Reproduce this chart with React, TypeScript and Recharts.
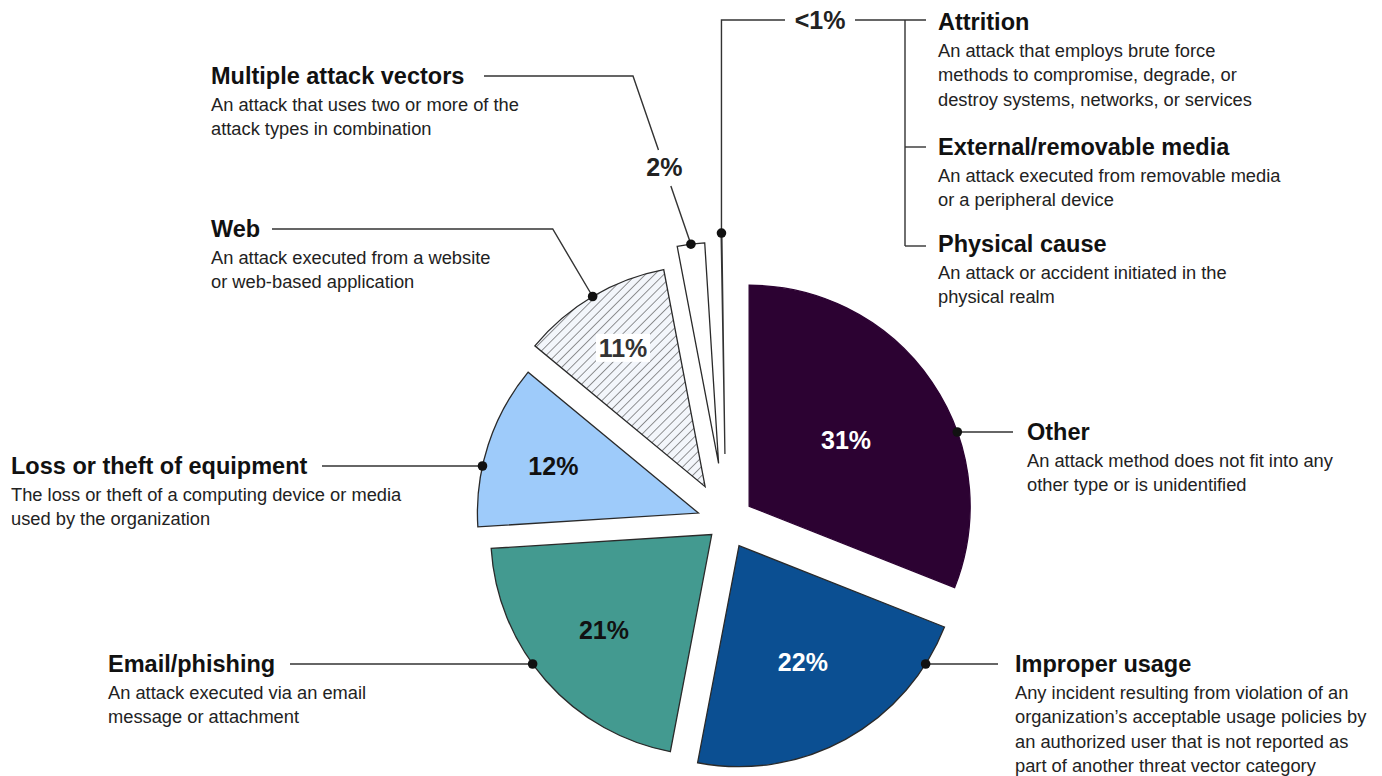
import React from 'react';
import { PieChart, Pie, Cell, Sector } from 'recharts';

// ---------- data ----------
const CATEGORIES = [
  'Other',
  'Improper usage',
  'Email/phishing',
  'Loss or theft of equipment',
  'Web',
  'Multiple attack vectors',
  'Attrition / External/removable media / Physical cause',
];
const SHARES = [31, 22, 21, 12, 11, 2, 1];
const SHARE_LABELS = ['31%', '22%', '21%', '12%', '11%', '2%', '<1%'];
const DESCRIPTIONS: string[][] = [
  ['An attack method does not fit into any', 'other type or is unidentified'],
  [
    'Any incident resulting from violation of an',
    'organization\u2019s acceptable usage policies by',
    'an authorized user that is not reported as',
    'part of another threat vector category',
  ],
  ['An attack executed via an email', 'message or attachment'],
  ['The loss or theft of a computing device or media', 'used by the organization'],
  ['An attack executed from a website', 'or web-based application'],
  ['An attack that uses two or more of the', 'attack types in combination'],
  [],
];
const SMALL_TITLES = ['Attrition', 'External/removable media', 'Physical cause'];
const SMALL_DESCRIPTIONS: string[][] = [
  ['An attack that employs brute force', 'methods to compromise, degrade, or', 'destroy systems, networks, or services'],
  ['An attack executed from removable media', 'or a peripheral device'],
  ['An attack or accident initiated in the', 'physical realm'],
];

// ---------- styles / layout ----------
const COLORS = ['#2c0232', '#0b4f92', '#439a90', '#9ecbfa', 'url(#hatch)', '#ffffff', '#ffffff'];
const LABEL_COLORS = ['#ffffff', '#ffffff', '#111111', '#111111', '#333333', '#222222', '#222222'];
const EXPLODE = [28, 27, 19, 29, 41, 59, 68];
const LABEL_R = [0.53, 0.6, 0.65, 0.69, 0.73, 0, 0];
const FONT = '"Liberation Sans", Arial, sans-serif';
const LINE = '#333333';
const DOT_R = 4.8;

type Callout = { kind: string; textX: number; textY: number; lineEnd: number; elbowX?: number; labelY?: number };
const CALLOUTS: Callout[] = [
  { kind: 'right', textX: 1027, textY: 432, lineEnd: 1013 },
  { kind: 'right', textX: 1015, textY: 664, lineEnd: 998 },
  { kind: 'left', textX: 108, textY: 664, lineEnd: 290 },
  { kind: 'left', textX: 11, textY: 466, lineEnd: 322 },
  { kind: 'radial', textX: 211, textY: 229, lineEnd: 272 },
  { kind: 'bent', textX: 211, textY: 76, lineEnd: 484, elbowX: 633, labelY: 167 },
  { kind: 'group', textX: 938, textY: 20, lineEnd: 785 },
];
const GROUP_TITLE_Y = [22, 147, 244];
const GROUP_LABEL_X = 820;
const BRACKET_X = 905;
const TICK_END = 926;

const RAD = Math.PI / 180;
const polar = (cx: number, cy: number, r: number, a: number) => ({
  x: cx + r * Math.cos(-a * RAD),
  y: cy + r * Math.sin(-a * RAD),
});

const pieData = CATEGORIES.map((name, i) => ({ name, value: SHARES[i] }));

// the thin "<1%" wedge is drawn as a single spoke, halfway between its centre and its closing edge
const spokeAngle = (props: any) => (props.midAngle + props.endAngle) / 2;

function TextBlock({ x, y, title, lines }: { x: number; y: number; title: string; lines: string[] }) {
  return (
    <g>
      <text x={x} y={y} fontFamily={FONT} fontSize={23.5} fontWeight="bold" fill="#111" dominantBaseline="central">
        {title}
      </text>
      {lines.map((l, k) => (
        <text
          key={k}
          x={x}
          y={y + 28 + k * 24.5}
          fontFamily={FONT}
          fontSize={18.3}
          fill="#222"
          dominantBaseline="central"
        >
          {l}
        </text>
      ))}
    </g>
  );
}

const renderSlice = (props: any) => {
  const i = CATEGORIES.indexOf(props.name ?? props.payload?.name);
  const d = EXPLODE[i] ?? 0;
  if (i === 6) {
    const a = spokeAngle(props);
    const o = polar(props.cx, props.cy, d, a);
    return (
      <Sector
        cx={o.x}
        cy={o.y}
        innerRadius={0}
        outerRadius={props.outerRadius}
        startAngle={a + 0.1}
        endAngle={a - 0.1}
        fill="#ffffff"
        stroke={LINE}
        strokeWidth={1.3}
      />
    );
  }
  const o = polar(props.cx, props.cy, d, props.midAngle);
  return (
    <Sector
      cx={o.x}
      cy={o.y}
      innerRadius={0}
      outerRadius={props.outerRadius}
      startAngle={props.startAngle}
      endAngle={props.endAngle}
      fill={props.fill}
      stroke={i === 0 ? '#2c0232' : '#2a2a2a'}
      strokeWidth={1.3}
    />
  );
};

const renderLabel = (props: any) => {
  const { cx, cy, outerRadius: R } = props;
  const i = CATEGORIES.indexOf(props.name ?? props.payload?.name);
  if (i < 0) return null;
  const midAngle = i === 6 ? spokeAngle(props) : props.midAngle;
  const apex = polar(cx, cy, EXPLODE[i], midAngle);
  const co = CALLOUTS[i];
  const parts: React.ReactNode[] = [];

  if (i <= 4) {
    const p = polar(apex.x, apex.y, LABEL_R[i] * R, midAngle);
    if (i === 4) {
      parts.push(<rect key="bg" x={p.x - 27} y={p.y - 14} width={54} height={28} fill="#ffffff" />);
    }
    parts.push(
      <text
        key="pct"
        x={p.x}
        y={p.y}
        textAnchor="middle"
        dominantBaseline="central"
        fontFamily={FONT}
        fontSize={25}
        fontWeight="bold"
        fill={LABEL_COLORS[i]}
      >
        {SHARE_LABELS[i]}
      </text>
    );
  }

  if (co.kind === 'right' || co.kind === 'left') {
    const dy = co.textY - apex.y;
    const dx = Math.sqrt(Math.max(R * R - dy * dy, 0));
    const dotX = co.kind === 'right' ? apex.x + dx : apex.x - dx;
    parts.push(<line key="l" x1={dotX} y1={co.textY} x2={co.lineEnd} y2={co.textY} stroke={LINE} strokeWidth={1.4} />);
    parts.push(<circle key="d" cx={dotX} cy={co.textY} r={DOT_R} fill="#111" />);
    parts.push(<TextBlock key="t" x={co.textX} y={co.textY} title={CATEGORIES[i]} lines={DESCRIPTIONS[i]} />);
  } else if (co.kind === 'radial') {
    const dot = polar(apex.x, apex.y, R, midAngle);
    const ux = Math.cos(-midAngle * RAD);
    const uy = Math.sin(-midAngle * RAD);
    const s = (co.textY - dot.y) / uy;
    const ex = dot.x + s * ux;
    parts.push(
      <polyline
        key="l"
        points={`${dot.x},${dot.y} ${ex},${co.textY} ${co.lineEnd},${co.textY}`}
        fill="none"
        stroke={LINE}
        strokeWidth={1.4}
      />
    );
    parts.push(<circle key="d" cx={dot.x} cy={dot.y} r={DOT_R} fill="#111" />);
    parts.push(<TextBlock key="t" x={co.textX} y={co.textY} title={CATEGORIES[i]} lines={DESCRIPTIONS[i]} />);
  } else if (co.kind === 'bent') {
    const dot = polar(apex.x, apex.y, R, midAngle);
    const ex = co.elbowX as number;
    const ey = co.textY;
    const at = (y: number) => dot.x + ((dot.y - y) / (dot.y - ey)) * (ex - dot.x);
    const ly = co.labelY as number;
    const yLow = ly + 19;
    const yHigh = ly - 17;
    parts.push(<line key="l1" x1={dot.x} y1={dot.y} x2={at(yLow)} y2={yLow} stroke={LINE} strokeWidth={1.4} />);
    parts.push(
      <polyline
        key="l2"
        points={`${at(yHigh)},${yHigh} ${ex},${ey} ${co.lineEnd},${ey}`}
        fill="none"
        stroke={LINE}
        strokeWidth={1.4}
      />
    );
    parts.push(
      <text
        key="pct"
        x={at(ly)}
        y={ly}
        textAnchor="middle"
        dominantBaseline="central"
        fontFamily={FONT}
        fontSize={25}
        fontWeight="bold"
        fill={LABEL_COLORS[i]}
      >
        {SHARE_LABELS[i]}
      </text>
    );
    parts.push(<circle key="d" cx={dot.x} cy={dot.y} r={DOT_R} fill="#111" />);
    parts.push(<TextBlock key="t" x={co.textX} y={co.textY} title={CATEGORIES[i]} lines={DESCRIPTIONS[i]} />);
  } else if (co.kind === 'group') {
    const dot = polar(apex.x, apex.y, R, midAngle);
    const ty = co.textY;
    parts.push(
      <polyline
        key="l1"
        points={`${dot.x},${dot.y} ${dot.x},${ty} ${co.lineEnd},${ty}`}
        fill="none"
        stroke={LINE}
        strokeWidth={1.4}
      />
    );
    parts.push(
      <text
        key="pct"
        x={GROUP_LABEL_X}
        y={ty}
        textAnchor="middle"
        dominantBaseline="central"
        fontFamily={FONT}
        fontSize={25}
        fontWeight="bold"
        fill={LABEL_COLORS[i]}
      >
        {SHARE_LABELS[i]}
      </text>
    );
    parts.push(<line key="l2" x1={GROUP_LABEL_X + 35} y1={ty} x2={TICK_END} y2={ty} stroke={LINE} strokeWidth={1.4} />);
    const last = GROUP_TITLE_Y[GROUP_TITLE_Y.length - 1] + 2;
    parts.push(<line key="br" x1={BRACKET_X} y1={ty} x2={BRACKET_X} y2={last} stroke={LINE} strokeWidth={1.4} />);
    GROUP_TITLE_Y.slice(1).forEach((gy, k) => {
      const yy = k === GROUP_TITLE_Y.length - 2 ? last : gy;
      parts.push(<line key={`tk${k}`} x1={BRACKET_X} y1={yy} x2={TICK_END} y2={yy} stroke={LINE} strokeWidth={1.4} />);
    });
    parts.push(<circle key="d" cx={dot.x} cy={dot.y} r={DOT_R} fill="#111" />);
    SMALL_TITLES.forEach((t, k) => {
      parts.push(<TextBlock key={`g${k}`} x={co.textX} y={GROUP_TITLE_Y[k]} title={t} lines={SMALL_DESCRIPTIONS[k]} />);
    });
  }
  return <g key={`lab-${i}`}>{parts}</g>;
};

export default function App() {
  return (
    <div style={{ position: 'absolute', left: 0, top: 0, width: 1382, height: 776, background: '#ffffff' }}>
      <PieChart width={1382} height={776} margin={{ top: 0, right: 0, bottom: 0, left: 0 }}>
        <defs>
          <pattern id="hatch" patternUnits="userSpaceOnUse" width={6.5} height={6.5} patternTransform="rotate(45)">
            <rect width={6.5} height={6.5} fill="#f3f6fb" />
            <line x1={0} y1={0} x2={0} y2={6.5} stroke="#5a5a5a" strokeWidth={1.3} />
          </pattern>
        </defs>
        <Pie
          data={pieData}
          dataKey="value"
          nameKey="name"
          cx={726}
          cy={522}
          innerRadius={0}
          outerRadius={221}
          startAngle={90}
          endAngle={-270}
          paddingAngle={0}
          isAnimationActive={false}
          labelLine={false}
          label={renderLabel}
          shape={renderSlice}
          stroke="#2a2a2a"
        >
          {pieData.map((_, i) => (
            <Cell key={i} fill={COLORS[i]} />
          ))}
        </Pie>
      </PieChart>
    </div>
  );
}
